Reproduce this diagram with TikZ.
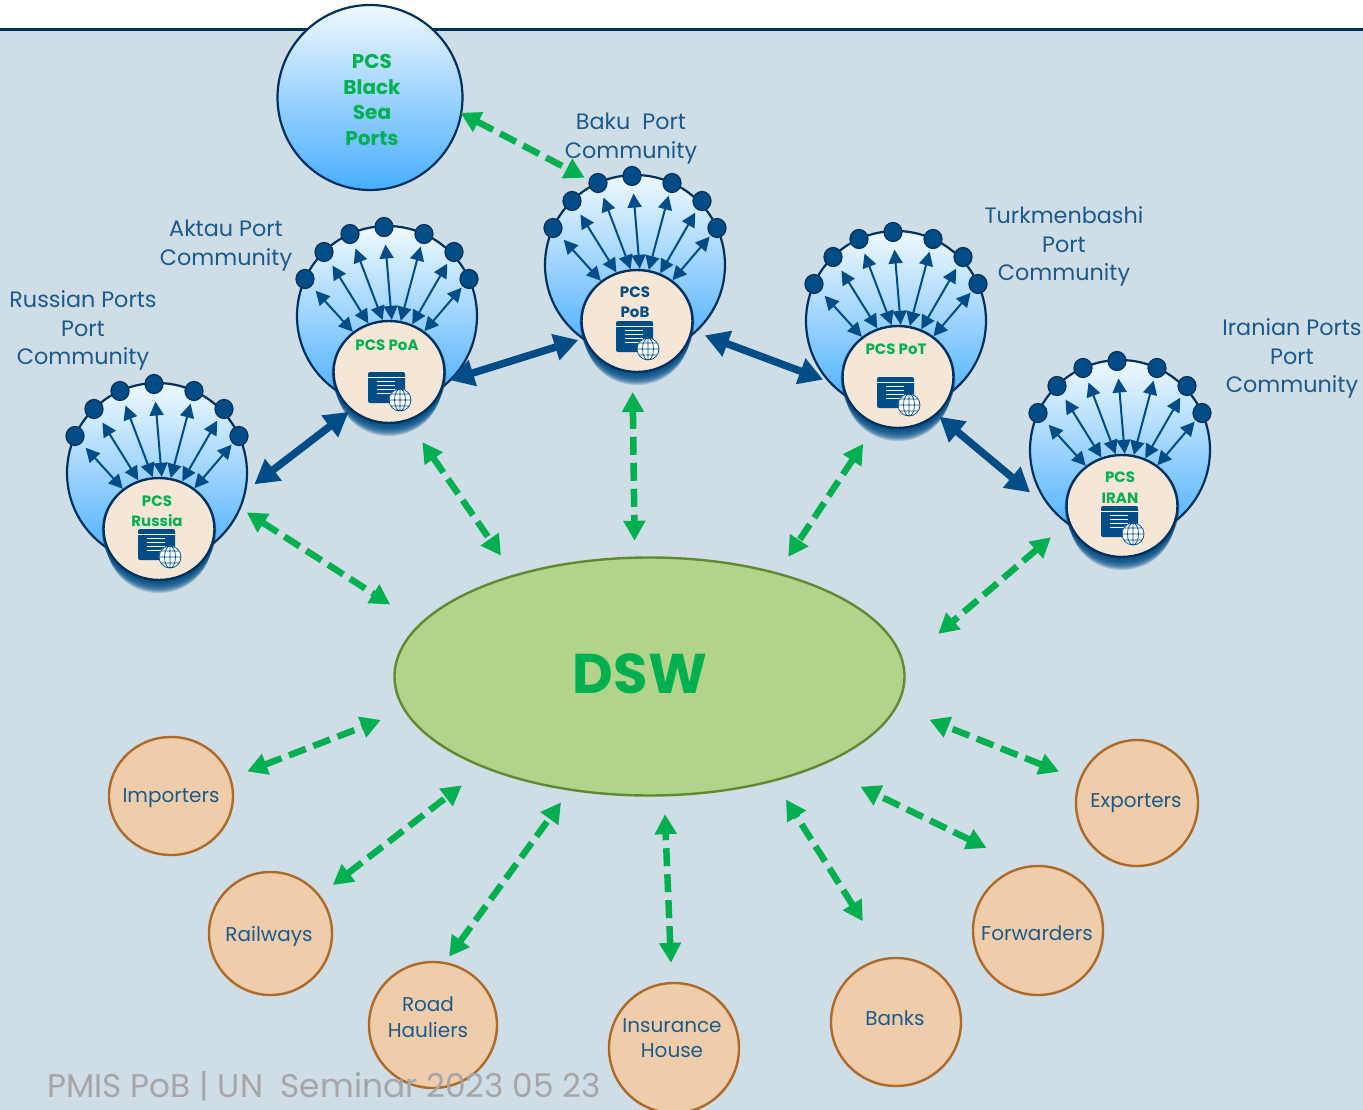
\documentclass[tikz,border=0pt]{standalone}
\usepackage{fontspec}
\setmainfont{Poppins}
\usetikzlibrary{shapes.geometric, arrows.meta}
\definecolor{pagebg}{HTML}{CFDDE7}
\definecolor{navy}{HTML}{00305C}
\definecolor{portblue}{HTML}{004C86}
\definecolor{textblue}{HTML}{1B5A8C}
\definecolor{pcsgreen}{HTML}{00B050}
\definecolor{skytop}{HTML}{F0F9FF}
\definecolor{skybottom}{HTML}{47AEFF}
\definecolor{cream}{HTML}{F6E6D6}
\definecolor{peach}{HTML}{EFCDAA}
\definecolor{rust}{HTML}{AD6A28}
\definecolor{dswfill}{HTML}{B1D48A}
\definecolor{dswline}{HTML}{5F8A30}
\tikzstyle{portbig} = [circle, minimum size=180pt, inner sep=0pt, draw=navy, line width=2.2pt, top color=skytop, bottom color=skybottom]
\tikzstyle{portin} = [ellipse, minimum width=111pt, minimum height=102pt, inner sep=0pt, draw=navy, line width=2.4pt, fill=cream]
\tikzstyle{portdot} = [ellipse, minimum width=18pt, minimum height=19pt, inner sep=0pt, draw=navy, line width=1.2pt, fill=portblue]
\tikzstyle{spoke} = [portblue, line width=2pt, {Triangle[length=14pt,width=14pt]}-{Triangle[length=14pt,width=14pt]}]
\tikzstyle{solidlink} = [portblue, line width=7.5pt, {Triangle[length=24pt,width=26pt]}-{Triangle[length=24pt,width=26pt]}]
\tikzstyle{greenlink} = [pcsgreen, line width=6.5pt, dash pattern=on 18pt off 8pt, {Triangle[length=20pt,width=21pt]}-{Triangle[length=20pt,width=21pt]}]
\tikzstyle{party} = [ellipse, inner sep=0pt, draw=rust, line width=2.4pt, fill=peach]
\tikzstyle{partytext} = [text=textblue, font=\fontsize{20}{25.5}\selectfont, align=center]
\tikzstyle{porttext} = [text=textblue, font=\fontsize{22.3}{28.8}\selectfont, align=center]
\tikzstyle{pcstext} = [font=\fontsize{15}{20.5}\selectfont\bfseries, align=center]
\newcommand{\portgroup}[6]{
    \node (#1) [portbig] at (#2,#3) {};
    \foreach \i/\dx/\dy in {1/-82/-37, 2/-63/-64, 3/-37/-82, 4/-3/-89, 5/37/-82, 6/67/-64, 7/82/-37}
        \node (#1d\i) [portdot] at (#2+\dx,#3+\dy) {};
    \foreach \k in {1,...,14}
        \fill [portblue, opacity=0.16] (#2+2,#3+56+\k) ellipse [x radius=58-0.4*\k, y radius=53-0.2*\k];
    \node (#1in) [portin] at (#2+2,#3+56) {};
    \foreach \i/\a/\s in {1/132/6, 2/113/6, 3/97/5.5, 4/87/7.5, 5/77/3, 6/64/3.5, 7/49/1.5}
        \draw [spoke, shorten >=\s pt] (#1in.\a) -- (#1d\i);
    \begin{scope}[shift={(#1in.center)}]
        \fill [rounded corners=2pt, fill=portblue] (-21,0) rectangle (16,31);
        \draw [white, line width=0.8pt] (-21,5) -- (16,5);
        \foreach \v in {9,13,17,21}
            \draw [white, line width=1pt] (-12,\v) -- (6,\v);
        \draw [white!90!portblue, fill=white] (11,28) circle (11);
        \draw [portblue, line width=0.7pt] (11,28) circle (11) (0,28) -- (22,28) (2,22) -- (20,22) (2,34) -- (20,34) (11,17) -- (11,39) (11,28) ellipse [x radius=5.5, y radius=11];
    \end{scope}
    \node (#1pcs) [pcstext, text=#4] at (#2+0,#3+56+#5) {#6};
}
\begin{document}
\begin{tikzpicture}[x=1pt, y=-1pt]
    \useasboundingbox (0,0) rectangle (1363,1110);
    \fill [pagebg] (0,30) rectangle (1363,1110);
    \draw [navy, line width=3pt] (0,30) -- (1363,30);

    \node (blacksea) [portbig, minimum size=185pt] at (370,97.5) {};
    \node (blackseatext) [pcstext, text=pcsgreen, font=\fontsize{20}{25.5}\selectfont\bfseries] at (372,100) {PCS\\Black\\Sea\\Ports};

    \portgroup{russia}{157}{473}{pcsgreen}{-18}{PCS\\Russia}
    \portgroup{aktau}{387}{316}{pcsgreen}{-27}{PCS PoA}
    \portgroup{baku}{635}{265}{portblue}{-19}{PCS\\PoB}
    \portgroup{turkmen}{896}{321}{pcsgreen}{-28}{PCS PoT}
    \portgroup{iran}{1120}{450}{pcsgreen}{-18.5}{PCS\\IRAN}

    \node (russiatext) [porttext] at (83,330.5) {Russian Ports\\Port\\Community};
    \node (aktautext) [porttext] at (226,245.5) {Aktau Port\\Community};
    \node (bakutext) [porttext] at (631,138.5) {Baku\ \ Port\\Community};
    \node (turkmentext) [porttext] at (1064,246.5) {Turkmenbashi\\Port\\Community};
    \node (irantext) [porttext] at (1292,358.5) {Iranian Ports\\Port\\Community};

    \node (dsw) [ellipse, minimum width=510pt, minimum height=238pt, inner sep=0pt, draw=dswline, line width=2.4pt, fill=dswfill] at (649.5,676.5) {};
    \node (dswtext) [text=pcsgreen, font=\fontsize{56}{56}\selectfont\bfseries] at (640,674) {DSW};

    \foreach \name/\x/\y/\w/\h/\tx/\ty/\txt in {
        importers/171/796/124/118/171/798/Importers,
        railways/270.5/933.5/123/123/269/936/Railways,
        road/433/1025/128/126/428/1017/{Road\\Hauliers},
        insurance/674/1048/130/130/672/1038/{Insurance\\House},
        banks/896/1022/130/128/895/1018/Banks,
        forwarders/1038/930.5/130/129/1037/933/Forwarders,
        exporters/1137/803/122/126/1136/803/Exporters}{
        \node (\name) [party, minimum width=\w pt, minimum height=\h pt] at (\x,\y) {};
        \node (\name text) [partytext] at (\tx,\ty) {\txt};
    }

    % Flechas
    \draw [solidlink, shorten <=10pt, shorten >=2.4pt] (russia.-11) -- (aktauin.225);
    \draw [solidlink, shorten <=5.5pt, shorten >=5.5pt] (aktauin.-10.7) -- (bakuin.198);
    \draw [solidlink, shorten <=13pt, shorten >=20.5pt] (bakuin.-10.4) -- (turkmenin.190);
    \draw [solidlink, shorten <=3pt, shorten >=51pt] (turkmenin.-44) -- (iranin.200);

    \draw [greenlink, shorten <=-2pt, shorten >=11.7pt] (blacksea.-10) -- (baku.116.3);
    \draw [greenlink, shorten <=7pt, shorten >=35pt] (russia.-23.7) -- (dsw.167);
    \draw [greenlink, shorten <=25.5pt, shorten >=23pt] (aktauin.-69) -- (dsw.143.6);
    \draw [greenlink, shorten <=19pt, shorten >=15.7pt] (bakuin.265.5) -- (dsw.97.9);
    \draw [greenlink, shorten <=22.5pt, shorten >=18.7pt] (turkmenin.245.2) -- (dsw.39.1);
    \draw [greenlink, shorten <=22.7pt, shorten >=45pt] (iranin.197) -- (dsw.3);
    \draw [greenlink, shorten <=17.2pt, shorten >=25pt] (importers.17.2) -- (dsw.188.5);
    \draw [greenlink, shorten <=16.2pt, shorten >=28pt] (railways.38.7) -- (dsw.209.2);
    \draw [greenlink, shorten <=6.5pt, shorten >=14.5pt] (road.79.9) -- (dsw.235.2);
    \draw [greenlink, shorten <=19pt, shorten >=17.7pt] (insurance.92) -- (dsw.277.4);
    \draw [greenlink, shorten <=43pt, shorten >=21.5pt] (banks.99.6) -- (dsw.-40.7);
    \draw [greenlink, shorten <=42pt, shorten >=46pt] (forwarders.102) -- (dsw.-28);
    \draw [greenlink, shorten <=21.5pt, shorten >=34.5pt] (exporters.158.5) -- (dsw.-7.5);

    \node (footer) [anchor=base west, text=black!35, font=\fontsize{32.8}{33}\selectfont] at (44,1097) {PMIS PoB | UN\ \ Seminar 2023 05 23};
\end{tikzpicture}
\end{document}
